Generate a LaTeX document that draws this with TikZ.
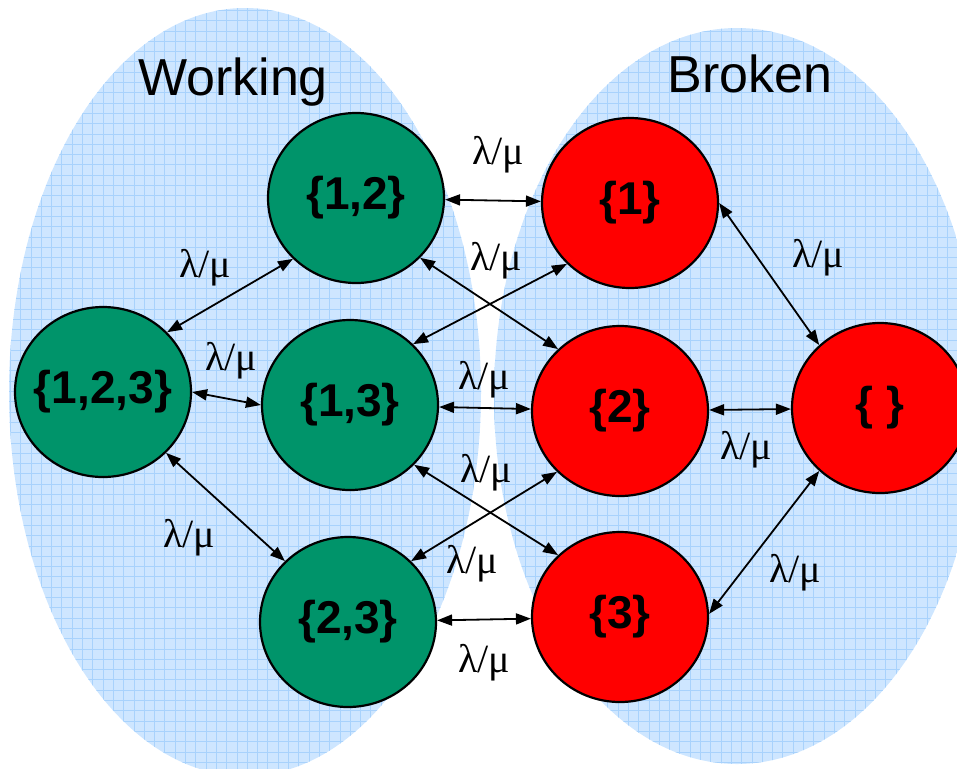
\documentclass[tikz,border=0pt]{standalone}
\usepackage{fontspec}
\setmainfont{Liberation Sans}
\newfontfamily\lblfont{Liberation Serif}
\usetikzlibrary{shapes.geometric,arrows.meta}
\definecolor{setfill}{RGB}{206,230,255}
\definecolor{setgrid}{RGB}{168,210,252}
\definecolor{workgreen}{RGB}{0,148,106}
\definecolor{brokenred}{RGB}{255,0,0}
\newcommand{\stxt}[1]{\makebox[0pt]{#1}}
\tikzset{
  state/.style={ellipse, draw=black, line width=2.2pt, minimum width=176pt, minimum height=170pt, inner sep=0pt,
    font=\bfseries\fontsize{46}{50}\selectfont},
  good/.style={state, fill=workgreen},
  bad/.style={state, fill=brokenred},
  biarrow/.style={line width=1.8pt, >={Triangle[length=15pt,width=11pt]}, <->},
  rate/.style={anchor=base, inner sep=0pt, font=\lblfont\fontsize{40}{44}\selectfont},
  title/.style={anchor=base, inner sep=0pt, font=\fontsize{52}{56}\selectfont},
  gridlines/.style={draw=setgrid, line width=0.7pt}
}
\begin{document}
\begin{tikzpicture}[x=1pt,y=-1pt]
\useasboundingbox (0,0) rectangle (957,769);
\clip (0,0) rectangle (957,769);
% set regions
\begin{scope}
  \clip (245,392) ellipse [x radius=236pt, y radius=384pt];
  \fill[setfill] (0,0) rectangle (957,769);
  \draw[gridlines, step=10.3pt] (0,0) grid (957,769);
\end{scope}
\begin{scope}
  \clip (737,396) ellipse [x radius=243pt, y radius=368pt];
  \fill[setfill] (0,0) rectangle (957,769);
  \draw[gridlines, step=10.3pt] (0,0) grid (957,769);
\end{scope}
\node[title] (tw) at (233,95) {Working};
\node[title] (tb) at (750,92) {Broken};
% states
\node[good] (n123) at (103,392) {\stxt{\{1,2,3\}}};
\node[good] (n12) at (356,198) {\stxt{\{1,2\}}};
\node[good] (n13) at (350,405) {\stxt{\{1,3\}}};
\node[good] (n23) at (348,622) {\stxt{\{2,3\}}};
\node[bad] (b1) at (630,203) {\stxt{\{1\}}};
\node[bad] (b2) at (620,411) {\stxt{\{2\}}};
\node[bad] (b3) at (620,617) {\stxt{\{3\}}};
\node[bad] (b0) at (880,408) {\stxt{\{ \}}};
% transitions
\draw[biarrow] (n12) -- (b1);
\draw[biarrow] (n12.-43) -- (b2.135);
\draw[biarrow] (n13.44) -- (b1.224);
\draw[biarrow] (n123.43) -- (n12.224);
\draw[biarrow] (n123.0) -- (n13.180);
\draw[biarrow] (n123.-44) -- (n23.136);
\draw[biarrow] (n13) -- (b2);
\draw[biarrow] (n13.-43) -- (b3.135);
\draw[biarrow] (n23.44) -- (b2.224);
\draw[biarrow] (n23) -- (b3);
\draw[biarrow] (b1.0) -- (b0.134);
\draw[biarrow] (b2) -- (b0);
\draw[biarrow] (b3.2) -- (b0.226);
% rates
\node[rate] (r1) at (498,164) {λ/μ};
\node[rate] (r2) at (496,270) {λ/μ};
\node[rate] (r3) at (205,277) {λ/μ};
\node[rate] (r4) at (231,370) {λ/μ};
\node[rate] (r5) at (484,389) {λ/μ};
\node[rate] (r6) at (486,482) {λ/μ};
\node[rate] (r7) at (472,573) {λ/μ};
\node[rate] (r8) at (484,672) {λ/μ};
\node[rate] (r9) at (189,547) {λ/μ};
\node[rate] (r10) at (818,267) {λ/μ};
\node[rate] (r11) at (746,459) {λ/μ};
\node[rate] (r12) at (795,582) {λ/μ};
\end{tikzpicture}
\end{document}
